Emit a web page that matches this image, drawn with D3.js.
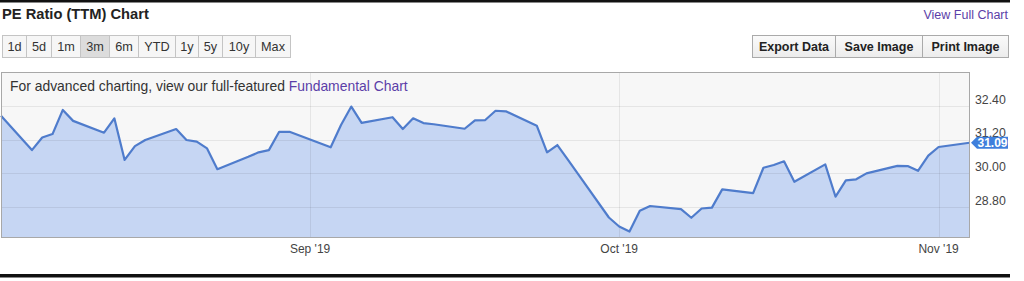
<!DOCTYPE html>
<html><head><meta charset="utf-8">
<script src="https://cdn.jsdelivr.net/npm/d3@7/dist/d3.min.js"></script>
<style>
html,body{margin:0;padding:0;background:#fff;}
svg{display:block;font-family:"Liberation Sans",Arial,sans-serif;}
</style></head><body>
<svg id="c" width="1024" height="281"></svg>
<script>
const dates = ["2019-08-02","2019-08-05","2019-08-06","2019-08-07","2019-08-08","2019-08-09",
"2019-08-12","2019-08-13","2019-08-14","2019-08-15","2019-08-16",
"2019-08-19","2019-08-20","2019-08-21","2019-08-22","2019-08-23",
"2019-08-26","2019-08-27","2019-08-28","2019-08-29","2019-08-30",
"2019-09-03","2019-09-04","2019-09-05","2019-09-06",
"2019-09-09","2019-09-10","2019-09-11","2019-09-12","2019-09-13",
"2019-09-16","2019-09-17","2019-09-18","2019-09-19","2019-09-20",
"2019-09-23","2019-09-24","2019-09-25","2019-09-26","2019-09-27",
"2019-09-30","2019-10-01","2019-10-02","2019-10-03","2019-10-04",
"2019-10-07","2019-10-08","2019-10-09","2019-10-10","2019-10-11",
"2019-10-14","2019-10-15","2019-10-16","2019-10-17","2019-10-18",
"2019-10-21","2019-10-22","2019-10-23","2019-10-24","2019-10-25",
"2019-10-28","2019-10-29","2019-10-30","2019-10-31","2019-11-01","2019-11-04"];
const peValues = [32.05,30.83,31.28,31.40,32.26,31.87,
31.45,31.96,30.48,30.97,31.19,
31.58,31.19,31.13,30.89,30.15,
30.59,30.75,30.83,31.48,31.48,
30.93,31.72,32.38,31.80,
32.00,31.58,31.96,31.79,31.75,
31.59,31.89,31.90,32.23,32.21,
31.70,30.75,31.01,30.50,29.98,
28.43,28.11,27.93,28.67,28.84,
28.73,28.42,28.75,28.78,29.43,
29.30,30.20,30.30,30.43,29.70,
30.32,29.17,29.75,29.79,30.00,
30.27,30.26,30.09,30.63,30.94,31.09];
const yTicks = [28.80, 30.00, 31.20, 32.40];
const xTickDates = ["2019-09-01","2019-10-01","2019-11-01"];
const xTickLabels = ["Sep '19","Oct '19","Nov '19"];
const rangeButtons = ["1d","5d","1m","3m","6m","YTD","1y","5y","10y","Max"];
const selectedRange = "3m";
const actionButtons = ["Export Data","Save Image","Print Image"];
const titleText = "PE Ratio (TTM) Chart";
const linkText = "View Full Chart";
const noteText = "For advanced charting, view our full-featured ";
const noteLink = "Fundamental Chart";

const parse = d3.timeParse("%Y-%m-%d");
const data = dates.map((d,i)=>({date:parse(d), value:peValues[i]}));
const svg = d3.select("#c");

// top / bottom black rules
svg.append("rect").attr("x",0).attr("y",0).attr("width",1010).attr("height",2.5).attr("fill","#111");
svg.append("rect").attr("x",0).attr("y",274).attr("width",1010).attr("height",3.5).attr("fill","#111");

// title and link
svg.append("text").attr("x",2).attr("y",19).attr("font-size",14.7).attr("font-weight","bold").attr("fill","#222").text(titleText);
svg.append("text").attr("x",1008).attr("y",19).attr("text-anchor","end").attr("font-size",12.5).attr("fill","#5b3ea8").text(linkText);

// range buttons
const defs = svg.append("defs");
const g1 = defs.append("linearGradient").attr("id","btnGrad").attr("x1",0).attr("y1",0).attr("x2",0).attr("y2",1);
g1.append("stop").attr("offset","0%").attr("stop-color","#fafafa");
g1.append("stop").attr("offset","100%").attr("stop-color","#ececec");

const bw = [24,25,29,29,29,37,23,24,33,35];
let bx = 2;
const rb = svg.append("g");
rangeButtons.forEach((t,i)=>{
  const g = rb.append("g").attr("transform",`translate(${bx},35)`);
  g.append("rect").attr("x",0.5).attr("y",0.5).attr("width",bw[i]).attr("height",22)
    .attr("fill", t===selectedRange ? "#dcdcdc" : "#f6f6f6").attr("stroke","#c4c4c4");
  g.append("text").attr("x",bw[i]/2+0.5).attr("y",16.3).attr("text-anchor","middle").attr("font-size",12.7).attr("fill","#333").text(t);
  bx += bw[i];
});

// action buttons
const aw = [83,87,86];
let ax = 752;
actionButtons.forEach((t,i)=>{
  const g = svg.append("g").attr("transform",`translate(${ax},35)`);
  g.append("rect").attr("x",0.5).attr("y",0.5).attr("width",aw[i]).attr("height",22).attr("fill","url(#btnGrad)").attr("stroke","#aaa");
  g.append("text").attr("x",aw[i]/2+0.5).attr("y",16.3).attr("text-anchor","middle").attr("font-size",12.5).attr("font-weight","bold").attr("fill","#222").text(t);
  ax += aw[i];
});

// plot
const pLeft = 1, pRight = 970, pTop = 72, pBottom = 238;
const x = d3.scaleTime().domain([parse("2019-08-02"), parse("2019-11-04")]).range([pLeft, 969.5]);
const y = d3.scaleLinear().domain([27.70, 33.61]).range([pBottom, pTop]);

svg.append("rect").attr("x",pLeft).attr("y",pTop).attr("width",pRight-pLeft).attr("height",pBottom-pTop).attr("fill","#f7f7f7");

const area = d3.area().x(d=>x(d.date)).y0(pBottom).y1(d=>y(d.value));
const line = d3.line().x(d=>x(d.date)).y(d=>y(d.value));
svg.append("path").datum(data).attr("d",area).attr("fill","#c6d6f3");

// gridlines
const grid = svg.append("g");
yTicks.forEach(v=>{
  grid.append("line").attr("x1",pLeft).attr("x2",pRight).attr("y1",Math.round(y(v))+0.5).attr("y2",Math.round(y(v))+0.5)
    .attr("stroke","#000").attr("stroke-opacity",0.07);
});
xTickDates.forEach(d=>{
  const xx = Math.round(x(parse(d)))+0.5;
  grid.append("line").attr("x1",xx).attr("x2",xx).attr("y1",pTop).attr("y2",pBottom).attr("stroke","#000").attr("stroke-opacity",0.07);
});

svg.append("path").datum(data).attr("d",line).attr("fill","none").attr("stroke","#4f7ccc").attr("stroke-width",2.2).attr("stroke-linejoin","round");

// frame
svg.append("rect").attr("x",pLeft+0.5).attr("y",pTop+0.5).attr("width",pRight-pLeft-1).attr("height",pBottom-pTop-1)
  .attr("fill","none").attr("stroke","#a8a8a8");

// note text
const nt = svg.append("text").attr("x",10).attr("y",91).attr("font-size",13.9).attr("fill","#333");
nt.append("tspan").text(noteText);
nt.append("tspan").attr("fill","#5b3ea8").text(noteLink);

// y labels
yTicks.forEach(v=>{
  svg.append("text").attr("x",975).attr("y",y(v)-2.3).attr("font-size",12.3).attr("fill","#444").text(v.toFixed(2));
});
// x labels
xTickDates.forEach((d,i)=>{
  svg.append("text").attr("x",x(parse(d))).attr("y",252.5).attr("text-anchor","middle").attr("font-size",12).attr("fill","#444").text(xTickLabels[i]);
});

// last value badge
const last = data[data.length-1];
const by = y(last.value);
svg.append("path").attr("d",`M${971},${by} L${977},${by-6} L${1008},${by-6} L${1008},${by+6} L${977},${by+6} Z`).attr("fill","#3f7fdc");
svg.append("text").attr("x",992.5).attr("y",by+4.5).attr("text-anchor","middle").attr("font-size",12).attr("font-weight","bold").attr("fill","#fff").text(last.value.toFixed(2));
</script>
</body></html>
